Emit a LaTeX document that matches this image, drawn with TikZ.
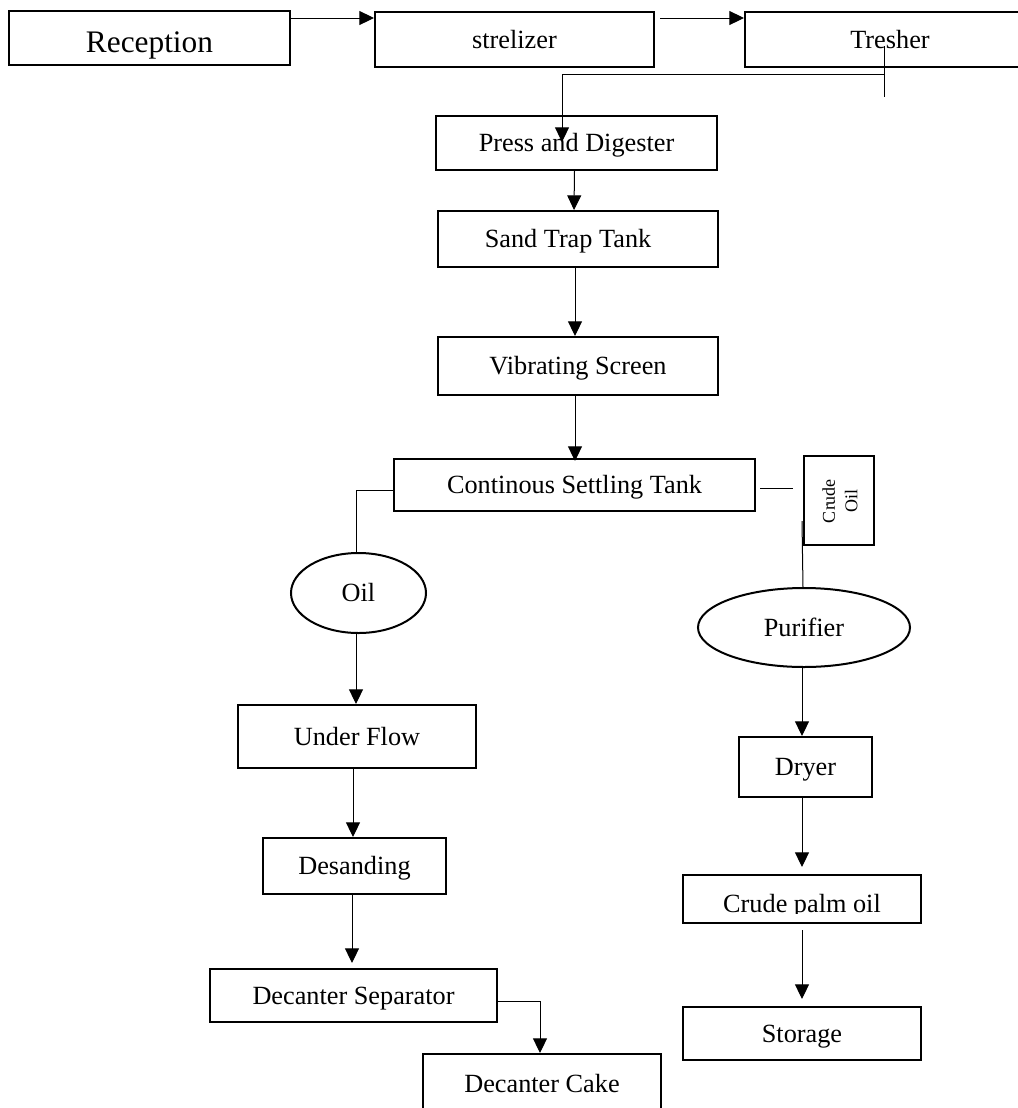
\documentclass[tikz,border=0pt]{standalone}
\usepackage{fontspec}
\setmainfont{Liberation Serif}
\usetikzlibrary{arrows.meta,calc,shapes.geometric}
\begin{document}
\begin{tikzpicture}[x=0.75pt,y=-0.75pt,
  txt/.style={font=\fontsize{19.7}{23}\selectfont,text height=13pt,text depth=0pt,inner sep=0pt},
  box/.style={draw,line width=1.5pt,txt},
  oval/.style={draw,ellipse,line width=1.5pt,txt},
  conn/.style={line width=0.75pt},
  arr/.style={conn,-{Triangle[length=11pt,width=10.5pt]}}]
\clip (0,0) rectangle (1018,1108);
% top row
\node[box,minimum width={281*0.75pt},minimum height={54*0.75pt},
      font=\fontsize{23.5}{27}\selectfont,text height=21.5pt] (rec) at (149.5,38) {Reception};
\node[box,minimum width={279*0.75pt},minimum height={55*0.75pt}] (str) at (514.5,39.5) {strelizer};
\node[box,minimum width={290*0.75pt},minimum height={55*0.75pt}] (tre) at (890,39.5) {Tresher};
% central column
\node[box,minimum width={281*0.75pt},minimum height={54*0.75pt}] (press) at (576.5,143) {Press and Digester};
\node[box,minimum width={280*0.75pt},minimum height={56*0.75pt}] (sand) at (578,239) {};
\node[txt] (sandt) at ($(sand.center)+(-10,0)$) {Sand Trap Tank};
\node[box,minimum width={280*0.75pt},minimum height={58*0.75pt}] (vib) at (578,366) {Vibrating Screen};
\node[box,minimum width={361*0.75pt},minimum height={52*0.75pt}] (cst) at (574.5,485) {Continous Settling Tank};
\node[draw,line width=1.5pt,minimum width={70*0.75pt},minimum height={89*0.75pt},inner sep=0pt] (crude) at (839,500.5) {};
\node[rotate=90,align=center,inner sep=0pt,font=\fontsize{13.5}{17}\selectfont] (crudet) at (840,501) {Crude\\Oil};
% left branch
\node[oval,minimum width={135*0.75pt},minimum height={80*0.75pt}] (oil) at (358.5,593) {Oil};
\node[box,minimum width={238*0.75pt},minimum height={63*0.75pt}] (under) at (357,736.5) {Under Flow};
\node[box,minimum width={183*0.75pt},minimum height={56*0.75pt}] (des) at (354.5,866) {Desanding};
\node[box,minimum width={287*0.75pt},minimum height={53*0.75pt}] (sep) at (353.5,995.5) {Decanter Separator};
\node[box,minimum width={238*0.75pt},minimum height={60*0.75pt}] (cake) at (542,1084) {Decanter Cake};
% right branch
\node[oval,minimum width={212*0.75pt},minimum height={79*0.75pt}] (pur) at (804,627.5) {Purifier};
\node[box,minimum width={133*0.75pt},minimum height={60*0.75pt}] (dryer) at (805.5,767) {Dryer};
\node[draw,line width=1.5pt,minimum width={238*0.75pt},minimum height={48*0.75pt},inner sep=0pt] (cpo) at (802,899) {};
\begin{scope}
  \clip (683,875) rectangle (921,913.5);
  \node[font=\fontsize{19.7}{23}\selectfont,inner sep=0pt,anchor=base] (cpot) at (802,912) {Crude palm oil};
\end{scope}
\node[box,minimum width={238*0.75pt},minimum height={53*0.75pt}] (sto) at (802,1033.5) {Storage};
% connectors, top row
\draw[arr] ($(rec.north east)+(0,8)$) -- ($(str.north west)+(0,7)$);
\draw[arr] ($(str.north east)+(5,7)$) -- ($(tre.north west)+(0,7)$);
\coordinate (t1) at ($(tre.north west)+(140,35)$);
\coordinate (t2) at ($(tre.north west)+(140,86)$);
\draw[conn] (t1) -- (t2);
\draw[arr] ($(t1)+(0,28)$) -| ($(press.north west)+(127,27)$);
% central column
\draw[arr] ($(press.south)+(-2,0)$) -- ($(sand.north)+(-4,0)$);
\draw[arr] ($(sand.south)+(-3,0)$) -- ($(vib.north)+(-3,0)$);
\draw[arr] ($(vib.south)+(-3,0)$) -- ($(cst.north)+(0.5,3)$);
\draw[conn] ($(cst.west)+(0,5)$) -| ($(oil.north)+(-2.5,0)$);
\draw[conn] ($(cst.east)+(4,3)$) -- ($(crude.west |- cst.east)+(-10,3)$);
\draw[conn] ($(crude.south west)+(-1,-25)$) -- ($(pur.north)+(-1,0)$);
% left branch
\draw[arr] ($(oil.south)+(-2.5,0)$) -- ($(under.north)+(-1,0)$);
\draw[arr] ($(under.south)+(-4,0)$) -- ($(des.north)+(-1.5,0)$);
\draw[arr] ($(des.south)+(-2.5,0)$) -- ($(sep.north)+(-1.5,-5)$);
\draw[arr] ($(sep.east)+(0,5.5)$) -| ($(cake.north)+(-2,0)$);
% right branch
\draw[arr] ($(pur.south)+(-2,0)$) -- ($(dryer.north)+(-3.5,0)$);
\draw[arr] ($(dryer.south)+(-3.5,0)$) -- ($(cpo.north)+(0,-7)$);
\draw[arr] ($(cpo.south)+(0,6)$) -- ($(sto.north)+(0,-7)$);
\end{tikzpicture}
\end{document}
